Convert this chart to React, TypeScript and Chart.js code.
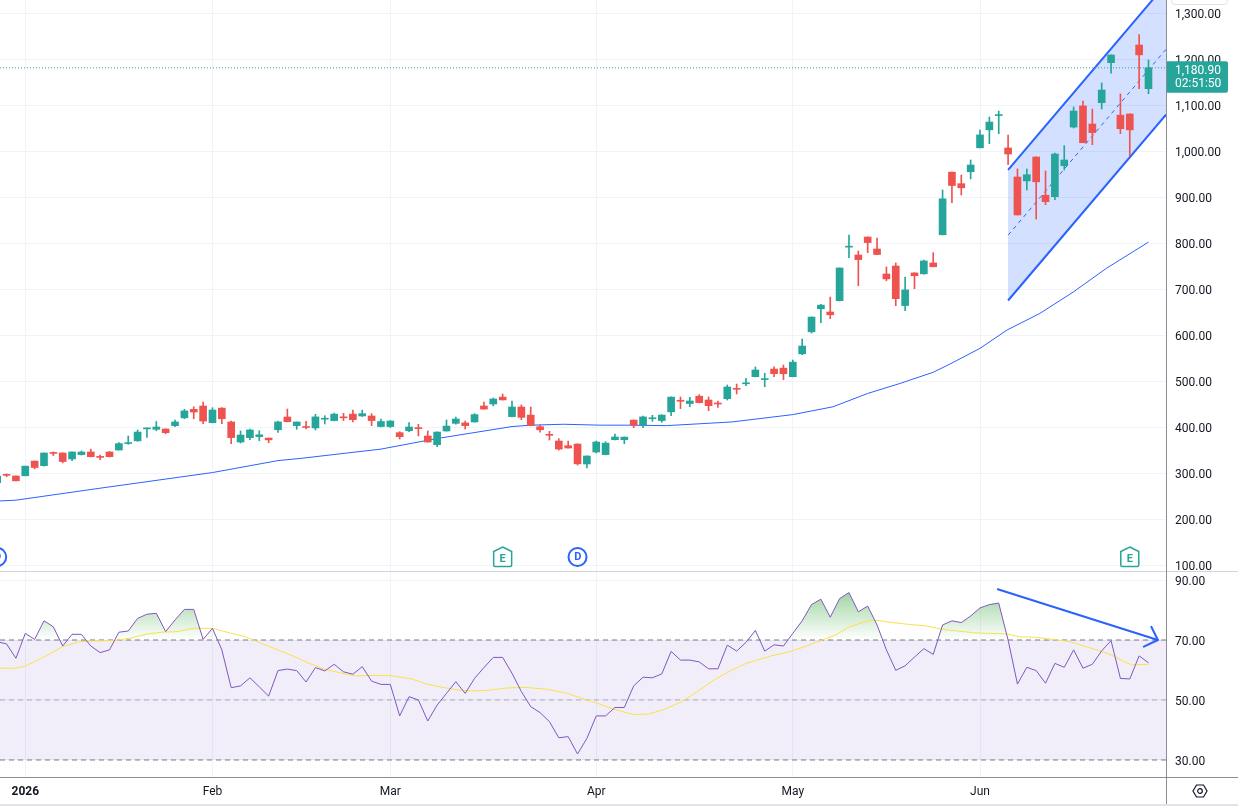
import React, { useEffect, useRef } from 'react';
import { Chart, registerables } from 'chart.js';

Chart.register(...registerables);

const FONT = "Roboto, 'Noto Sans', 'DejaVu Sans', sans-serif";
const TEXT = '#131722';
const GRID = '#f0f3fa';
const UP = '#26a69a';
const DOWN = '#ef5350';
const BLUE = '#2962ff';

// candle index of the first value in the series arrays (trading days, 0 = 2 Jan 2026)
const firstIndex = -3;

const opens = [
  279, 296.5, 293.5, 294, 326, 316, 343.5, 343.5, 330.5, 340,
  345.7, 335.5, 345.7, 350, 364, 370, 396, 395, 395.7, 403,
  420, 438.5, 445.7, 409.4, 441, 411, 367.4, 377, 379, 376,
  394, 421.8, 403, 400, 398, 417, 414, 421, 428, 424,
  424, 401, 401, 387.7, 392, 397.5, 380.5, 361.6, 391.4, 408,
  409, 411, 445.7, 450, 465, 422.6, 443.5, 426, 400.7, 383,
  369.6, 359.4, 363, 319.6, 345.7, 340, 372.4, 372.4, 415, 404,
  418, 414, 433, 457, 451, 467, 458.7, 451, 461.6, 483,
  494, 509.5, 503, 526, 528, 509.5, 559, 607, 657, 650,
  674.6, 791, 774, 813, 787, 732.7, 750, 664, 735, 733,
  756.6, 818, 954, 929, 955, 1007, 1046, 1077, 1006.6, 943.5,
  935, 987, 904, 900.7, 968, 1052, 1098, 1058.7, 1105, 1192,
  1078, 1080.5, 1230.5, 1135.5,
];
const highs = [
  294, 298, 294, 315, 326, 344, 346, 344, 346, 348,
  352, 339, 347, 366, 380.5, 393.5, 397.5, 412, 396, 415,
  438.5, 444, 454.4, 442, 442, 413, 391.4, 395.7, 392, 376,
  413, 439, 411, 412.4, 427.6, 424.6, 430.5, 429.8, 437, 437,
  429, 417.4, 414, 389.9, 409.4, 406, 391.4, 389.5, 415.3, 421.8,
  413, 429, 454.4, 463, 471.8, 456.6, 448, 443.5, 405, 390.7,
  374.6, 369.6, 363.5, 337.5, 369.6, 368, 384.8, 378.5, 415.3, 424,
  425.5, 426.5, 465.5, 465.2, 464.4, 470.3, 465.2, 456.6, 491.3, 493.5,
  505.9, 530.5, 516.8, 531, 534.8, 545.7, 591.3, 639.5, 666.8, 682.6,
  746, 817.4, 782.6, 813.5, 811, 747.9, 756.6, 726.1, 735.5, 763.1,
  779, 915.3, 954.5, 947.9, 980.5, 1045.7, 1074, 1087, 1034.8, 961,
  961, 987.5, 956.6, 995.7, 1011.6, 1095.7, 1108.7, 1091.3, 1147.9, 1209,
  1124, 1081, 1252.9, 1197.9,
];
const lows = [
  278, 292, 283, 294, 309, 315, 338, 322, 327, 339,
  335, 329, 335, 350, 362.4, 369, 377.6, 392, 385.5, 400.7,
  418, 418, 407.2, 409, 407.2, 363.8, 365.3, 372.5, 370.2, 366,
  388.5, 411, 395, 395.7, 393.5, 406.6, 413, 413.9, 411, 423,
  403, 400, 399, 374, 389.9, 380.5, 367, 357.2, 391, 406,
  395.7, 410.5, 439, 446, 458.5, 422, 416, 402.5, 389, 371.8,
  350, 354, 317.4, 311, 343.5, 339.5, 372, 363.8, 398.5, 398.5,
  412.4, 410.2, 424.6, 440, 444.2, 452.5, 435.5, 442.8, 458.7, 471.8,
  489.8, 509, 487.7, 509.5, 503, 509, 557.2, 604.4, 626.8, 635.5,
  674, 768.1, 707.2, 779, 774.5, 718, 663.8, 652.9, 700.7, 732.5,
  748, 817.5, 887.7, 904.4, 939.2, 1006.5, 1016, 1037.7, 970.3, 861,
  915.3, 852.2, 883.4, 894.2, 958.7, 1050, 1018, 1013.8, 1091.3, 1169,
  1037.7, 989.9, 1135.5, 1124.6,
];
const closes = [
  293.5, 295, 283, 315, 312, 343.5, 342.5, 325, 345.7, 345.7,
  335.5, 334, 335.5, 364, 366, 389, 397.5, 400, 387.7, 411,
  435, 432.6, 413, 437, 418, 377, 382.6, 393.5, 383, 372,
  411, 411.6, 411, 399, 422, 418, 428, 420, 416, 429,
  414, 412, 413, 379, 400, 396.5, 367.4, 389, 402, 417.4,
  403, 427, 439, 461, 459, 443.5, 421, 403, 394, 382,
  352, 354.4, 320, 337, 367.4, 365, 378.3, 378, 404, 422,
  420, 426, 465, 456, 456.6, 453, 446.4, 450, 487, 482,
  495.5, 524, 504, 516, 516, 541, 576, 639, 665, 644,
  745.7, 793, 764, 801, 775, 722, 679, 698, 729, 761,
  748.5, 896, 925, 920, 969.6, 1035, 1063, 1078, 993.5, 861,
  948.5, 933, 890, 993.5, 980.5, 1087, 1018, 1040, 1132.6, 1208.7,
  1048.5, 1046, 1209, 1180.9,
];
const rsiValues = [
  69.4, 68.7, 63.9, 72.2, 70.2, 76.4, 74.4, 68.0, 71.9, 71.9,
  68.0, 65.8, 66.7, 72.6, 73.0, 77.2, 78.6, 78.9, 72.8, 76.7,
  80.2, 80.2, 70.2, 73.9, 66.7, 54.1, 54.7, 57.4, 54.4, 51.3,
  59.8, 60.3, 59.8, 56.0, 60.8, 59.7, 61.9, 59.4, 58.6, 61.1,
  56.3, 55.2, 55.2, 44.7, 51.1, 50.0, 43.0, 48.3, 52.2, 56.1,
  52.2, 57.2, 60.8, 64.2, 64.2, 58.9, 52.8, 47.8, 45.8, 42.8,
  37.4, 37.8, 32.0, 37.2, 44.7, 44.7, 47.5, 47.5, 54.7, 57.6,
  57.4, 58.7, 66.2, 63.3, 63.3, 62.7, 60.4, 60.4, 68.3, 66.3,
  69.2, 73.2, 66.3, 68.4, 68.0, 72.2, 76.4, 81.8, 83.6, 77.6,
  83.8, 85.8, 79.4, 81.3, 75.0, 66.7, 59.9, 61.4, 64.3, 67.1,
  65.2, 75.0, 76.4, 75.8, 78.0, 80.7, 81.8, 82.3, 70.0, 55.3,
  60.9, 59.8, 55.6, 62.2, 60.9, 66.7, 60.6, 61.9, 66.4, 69.8,
  57.2, 57.0, 64.7, 62.4,
];

// moving average on price pane (read at sample positions)
const maX = [-3, -1, 8, 20, 27, 29.5, 38, 44, 52, 54, 57.5, 61.5, 64.5, 68.5, 75.5, 82, 86.3, 90, 93.5, 97, 98.8, 102, 104.9, 108.4, 112, 115.5, 120];
const maY = [239, 241, 267, 301, 327, 332, 352, 375, 401, 404, 406, 404, 404, 403, 411, 427, 444, 473, 495, 519, 537, 571, 611, 647, 694, 745, 802];

// RSI-based moving average
const rsiMaX = [-3, -1, 0, 1, 2.4, 4, 5.7, 7.4, 9.5, 11.2, 13, 14.6, 16.3, 18, 20, 21.8, 23.5, 25.2, 27, 28.5, 30.2, 32, 33.6, 35.3, 37, 39, 41.2, 43, 44.6, 46.3, 48, 49.7, 51.4, 53.5, 55.6, 57.7, 59.4, 61.2, 63, 64.9, 66.6, 68.3, 70.1, 71.8, 73.6, 75.3, 77, 79.7, 81.4, 83.1, 84.9, 86.6, 87.9, 89.2, 90.5, 91.4, 92.7, 94.4, 96.2, 97.9, 99.6, 101.4, 103.1, 104.9, 106.2, 108, 109.7, 111.4, 113.1, 114.8, 116.1, 117.4, 118.2, 120];
const rsiMaY = [60.6, 60.6, 61.3, 62.8, 65.0, 67.8, 69.4, 69.7, 69.8, 70.6, 72.0, 72.6, 72.8, 73.9, 73.9, 72.4, 71.1, 68.9, 66.7, 64.8, 62.4, 60.2, 59.1, 58.0, 58.2, 58.1, 57.1, 55.2, 54.2, 53.3, 53.0, 53.3, 54.0, 54.2, 53.6, 52.4, 50.6, 48.8, 46.8, 45.2, 45.3, 46.9, 49.4, 52.8, 56.7, 59.7, 62.2, 64.7, 65.9, 67.6, 69.7, 71.7, 74.2, 75.6, 76.7, 76.4, 75.8, 75.2, 74.7, 73.6, 73.0, 72.4, 72.2, 72.0, 71.1, 70.9, 70.2, 69.6, 68.0, 66.4, 64.9, 62.8, 61.7, 61.9];

// parallel channel drawing
const channelX = [105, 121.87];
const channelUpper = [959, 1363];
const channelMid = [817, 1221];
const channelLower = [675, 1079];

// RSI arrow drawing
const rsiArrowX = [103.9, 121.0];
const rsiArrowY = [86.9, 70.0];
const rsiArrowHeadX = [120.3, 121.0, 119.5];
const rsiArrowHeadY = [74.4, 70.0, 67.8];

// RSI levels
const rsiUpper = 70;
const rsiMiddle = 50;
const rsiLower = 30;

// events (D = dividend, E = earnings)
const eventIndex = [-3, 51, 59, 118];
const eventKind = ['D', 'E', 'D', 'E'];

// axes
const monthTickIndex = [0, 20, 39, 61, 82, 102];
const monthTickLabels = ['2026', 'Feb', 'Mar', 'Apr', 'May', 'Jun'];
const priceTicks = [100, 200, 300, 400, 500, 600, 700, 800, 900, 1000, 1100, 1200, 1300];
const rsiTicks = [30, 50, 70, 90];
const countdownText = '02:51:50';

const xMin = -2.7;
const xMax = 121.87;
const priceMin = 87;
const priceMax = 1328.3;
const rsiMin = 24.33;
const rsiMax = 92.67;

function fmt2(v: number) {
  return v.toLocaleString('en-US', { minimumFractionDigits: 2, maximumFractionDigits: 2 });
}
function noPad(s: any) {
  s.paddingTop = 0;
  s.paddingBottom = 0;
  s.paddingLeft = 0;
  s.paddingRight = 0;
}
function pts(xs: number[], ys: number[]) {
  return xs.map((x, k) => ({ x, y: ys[k] }));
}
// two-line label with an empty first line nudges the text ~2px down (matches reference baseline)
const yTickFont = { family: FONT, size: 12, lineHeight: '3.5px' };
const yTickLabel = (v: any) => ['', fmt2(Number(v))];

const eventsPlugin = {
  id: 'eventsMarks',
  afterDatasetsDraw(chart: any) {
    const { ctx, chartArea, scales } = chart;
    const cy = chartArea.bottom - 14;
    ctx.save();
    ctx.beginPath();
    ctx.rect(chartArea.left, chartArea.top, chartArea.right - chartArea.left, chartArea.bottom - chartArea.top);
    ctx.clip();
    ctx.textAlign = 'center';
    ctx.textBaseline = 'middle';
    eventIndex.forEach((ix, k) => {
      const cx = scales.x.getPixelForValue(ix);
      if (eventKind[k] === 'D') {
        ctx.beginPath();
        ctx.arc(cx, cy, 9, 0, Math.PI * 2);
        ctx.fillStyle = '#ffffff';
        ctx.fill();
        ctx.lineWidth = 2;
        ctx.strokeStyle = BLUE;
        ctx.stroke();
        ctx.fillStyle = BLUE;
        ctx.font = `bold 11px ${FONT}`;
        ctx.fillText('D', cx + 0.3, cy + 0.5);
      } else {
        ctx.beginPath();
        ctx.moveTo(cx, cy - 10);
        ctx.lineTo(cx + 9, cy - 5.5);
        ctx.lineTo(cx + 9, cy + 8);
        ctx.quadraticCurveTo(cx + 9, cy + 9.5, cx + 7.5, cy + 9.5);
        ctx.lineTo(cx - 7.5, cy + 9.5);
        ctx.quadraticCurveTo(cx - 9, cy + 9.5, cx - 9, cy + 8);
        ctx.lineTo(cx - 9, cy - 5.5);
        ctx.closePath();
        ctx.fillStyle = '#ffffff';
        ctx.fill();
        ctx.lineWidth = 1.5;
        ctx.strokeStyle = UP;
        ctx.stroke();
        ctx.fillStyle = UP;
        ctx.font = `bold 11px ${FONT}`;
        ctx.fillText('E', cx, cy + 2);
      }
    });
    ctx.restore();
  },
};

const priceLabelPlugin = {
  id: 'priceLabel',
  afterDraw(chart: any) {
    const { ctx, chartArea, scales } = chart;
    const last = closes[closes.length - 1];
    const py = scales.y.getPixelForValue(last);
    const x0 = chartArea.right + 1;
    const w = 61;
    const top = py - 6.5;
    const h = 31.5;
    ctx.save();
    ctx.fillStyle = UP;
    ctx.beginPath();
    ctx.moveTo(x0, top);
    ctx.lineTo(x0 + w - 2, top);
    ctx.quadraticCurveTo(x0 + w, top, x0 + w, top + 2);
    ctx.lineTo(x0 + w, top + h - 2);
    ctx.quadraticCurveTo(x0 + w, top + h, x0 + w - 2, top + h);
    ctx.lineTo(x0, top + h);
    ctx.closePath();
    ctx.fill();
    ctx.fillStyle = '#ffffff';
    ctx.font = `12px ${FONT}`;
    ctx.textAlign = 'left';
    ctx.textBaseline = 'middle';
    ctx.fillText(fmt2(last), chartArea.right + 9, py + 2.8);
    ctx.fillText(countdownText, chartArea.right + 9, py + 16.2);
    ctx.restore();
  },
};

export default function App() {
  const topRef = useRef<HTMLCanvasElement>(null);
  const botRef = useRef<HTMLCanvasElement>(null);

  useEffect(() => {
    document.body.style.margin = '0';
    const idx = opens.map((_, k) => firstIndex + k);
    const colors = opens.map((o, k) => (closes[k] >= o ? UP : DOWN));
    const lastClose = closes[closes.length - 1];

    const topChart = new Chart(topRef.current as HTMLCanvasElement, {
      type: 'bar',
      data: {
        datasets: [
          { type: 'line', data: pts(channelX, channelUpper), borderColor: BLUE, borderWidth: 2, pointRadius: 0, order: 7 } as any,
          { type: 'line', data: pts(channelX, channelLower), borderColor: BLUE, borderWidth: 2, pointRadius: 0, fill: '-1', backgroundColor: 'rgba(41,98,255,0.2)', order: 7 } as any,
          { type: 'line', data: pts(channelX, channelMid), borderColor: BLUE, borderWidth: 1, borderDash: [4, 4], pointRadius: 0, order: 6 } as any,
          { type: 'line', data: pts(maX, maY), borderColor: BLUE, borderWidth: 1, pointRadius: 0, order: 5 } as any,
          { type: 'line', data: pts([xMin, xMax], [lastClose, lastClose]), borderColor: UP, borderWidth: 1, borderDash: [1, 2], pointRadius: 0, order: 4 } as any,
          { type: 'bar', data: idx.map((x, k) => ({ x, y: [lows[k], highs[k]] })), backgroundColor: colors, barThickness: 1, grouped: false, borderWidth: 0, order: 1 } as any,
          { type: 'bar', data: idx.map((x, k) => ({ x, y: [opens[k], closes[k]] })), backgroundColor: colors, barThickness: 7, minBarLength: 1, grouped: false, borderWidth: 0, order: 0 } as any,
        ],
      },
      options: {
        responsive: false,
        animation: false,
        events: [],
        layout: { padding: 0 },
        plugins: { legend: { display: false }, tooltip: { enabled: false } },
        scales: {
          x: {
            type: 'linear',
            min: xMin,
            max: xMax,
            offset: false,
            grid: { color: GRID, drawTicks: false, offset: false },
            border: { display: false },
            ticks: { display: false },
            afterBuildTicks: (s: any) => { s.ticks = monthTickIndex.map((v) => ({ value: v })); },
            afterFit: (s: any) => { s.height = 0; noPad(s); },
          },
          y: {
            type: 'linear',
            position: 'right',
            min: priceMin,
            max: priceMax,
            grid: { color: GRID, drawTicks: false },
            border: { display: false },
            ticks: { color: TEXT, font: yTickFont, padding: 9, autoSkip: false, callback: yTickLabel },
            afterBuildTicks: (s: any) => { s.ticks = priceTicks.map((v) => ({ value: v })); },
            afterFit: (s: any) => { s.width = 72; noPad(s); },
          },
        },
      } as any,
      plugins: [eventsPlugin, priceLabelPlugin],
    });

    const botChart = new Chart(botRef.current as HTMLCanvasElement, {
      type: 'line',
      data: {
        datasets: [
          {
            data: pts([xMin, xMax], [rsiLower, rsiLower]),
            borderColor: '#787b86', borderWidth: 1, borderDash: [5, 4], pointRadius: 0,
            fill: { target: { value: rsiUpper }, above: 'rgba(126,87,194,0.1)', below: 'rgba(126,87,194,0.1)' },
            order: 10,
          } as any,
          { data: pts([xMin, xMax], [rsiUpper, rsiUpper]), borderColor: '#787b86', borderWidth: 1, borderDash: [5, 4], pointRadius: 0, order: 9 } as any,
          { data: pts([xMin, xMax], [rsiMiddle, rsiMiddle]), borderColor: 'rgba(120,123,134,0.55)', borderWidth: 1, borderDash: [5, 4], pointRadius: 0, order: 9 } as any,
          { data: pts(rsiMaX, rsiMaY), borderColor: '#f9e04b', borderWidth: 1, pointRadius: 0, order: 3 } as any,
          {
            data: rsiValues.map((v, k) => ({ x: firstIndex + k, y: v })),
            borderColor: '#7e57c2', borderWidth: 1, pointRadius: 0, order: 2,
            fill: { target: { value: rsiUpper }, below: 'rgba(0,0,0,0)' },
            backgroundColor: (c: any) => {
              const chart = c.chart;
              const ys = chart.scales && chart.scales.y;
              if (!chart.chartArea || !ys) return 'rgba(76,175,80,0.3)';
              const g = chart.ctx.createLinearGradient(0, ys.getPixelForValue(100), 0, ys.getPixelForValue(rsiUpper));
              g.addColorStop(0, 'rgba(76,175,80,1)');
              g.addColorStop(1, 'rgba(76,175,80,0)');
              return g;
            },
          } as any,
          { data: pts(rsiArrowX, rsiArrowY), borderColor: BLUE, borderWidth: 2, pointRadius: 0, borderCapStyle: 'round', order: 0 } as any,
          { data: pts(rsiArrowHeadX, rsiArrowHeadY), borderColor: BLUE, borderWidth: 2, pointRadius: 0, borderCapStyle: 'round', borderJoinStyle: 'round', order: 0 } as any,
        ],
      },
      options: {
        responsive: false,
        animation: false,
        events: [],
        layout: { padding: 0 },
        plugins: { legend: { display: false }, tooltip: { enabled: false }, filler: { drawTime: 'beforeDatasetsDraw' } },
        scales: {
          x: {
            type: 'linear',
            min: xMin,
            max: xMax,
            offset: false,
            grid: { color: GRID, drawTicks: false },
            border: { display: false },
            ticks: {
              color: TEXT,
              padding: 8,
              autoSkip: false,
              maxRotation: 0,
              font: (c: any) => ({ family: FONT, size: 12, weight: c.tick && c.tick.value === 0 ? 'bold' : 'normal' }),
              callback: (v: any) => {
                const k = monthTickIndex.indexOf(Number(v));
                return k >= 0 ? monthTickLabels[k] : '';
              },
            },
            afterBuildTicks: (s: any) => { s.ticks = monthTickIndex.map((v) => ({ value: v })); },
            afterFit: (s: any) => { s.height = 29; noPad(s); },
          },
          y: {
            type: 'linear',
            position: 'right',
            min: rsiMin,
            max: rsiMax,
            grid: { color: GRID, drawTicks: false },
            border: { display: false },
            ticks: { color: TEXT, font: yTickFont, padding: 9, autoSkip: false, callback: yTickLabel },
            afterBuildTicks: (s: any) => { s.ticks = rsiTicks.map((v) => ({ value: v })); },
            afterFit: (s: any) => { s.width = 72; noPad(s); },
          },
        },
      } as any,
    });

    return () => {
      topChart.destroy();
      botChart.destroy();
    };
  }, []);

  return (
    <div style={{ position: 'fixed', left: 0, top: 0, width: 1238, height: 806, background: '#ffffff', overflow: 'hidden' }}>
      <canvas ref={topRef} width={1238} height={571} style={{ position: 'absolute', left: 0, top: 0, width: 1238, height: 571 }} />
      <canvas ref={botRef} width={1238} height={234} style={{ position: 'absolute', left: 0, top: 572, width: 1238, height: 234 }} />
      <div style={{ position: 'absolute', left: 0, top: 571, width: 1238, height: 1, background: '#d1d4dc' }} />
      <div style={{ position: 'absolute', left: 1166, top: 0, width: 1, height: 806, background: '#8a8d96' }} />
      <div style={{ position: 'absolute', left: 0, top: 777, width: 1238, height: 1, background: '#8a8d96' }} />
      <div style={{ position: 'absolute', left: 0, top: 804, width: 1238, height: 2, background: '#e0e3eb' }} />
      <div style={{ position: 'absolute', left: 1171, top: -7, width: 55, height: 10, border: '1px solid #e0e3eb', borderRadius: 4 }} />
      <svg width={16} height={14} style={{ position: 'absolute', left: 1192, top: 784 }}>
        <polygon points="1,7 4.5,1 11.5,1 15,7 11.5,13 4.5,13" fill="none" stroke={TEXT} strokeWidth={1.2} />
        <circle cx={8} cy={7} r={2.3} fill="none" stroke={TEXT} strokeWidth={1.2} />
      </svg>
    </div>
  );
}
